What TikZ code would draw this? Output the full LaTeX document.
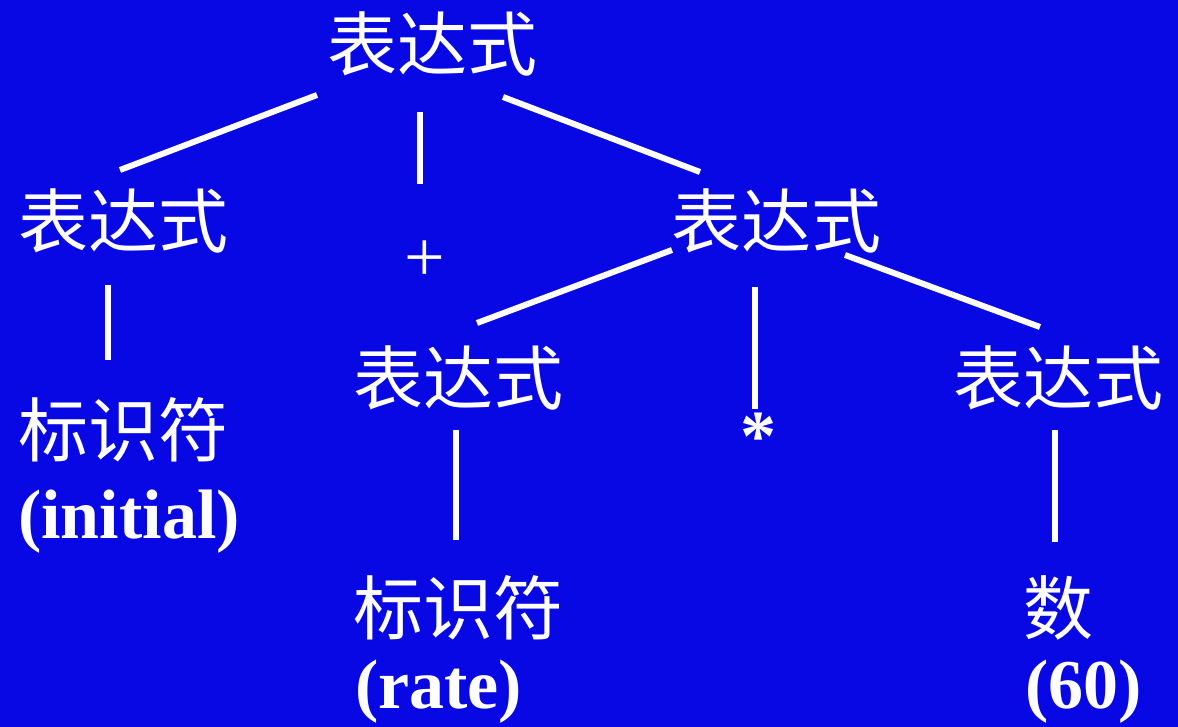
\documentclass[tikz,border=0pt]{standalone}
\usepackage{fontspec}
\setmainfont{Liberation Serif}
\newfontfamily\cjk{Noto Sans CJK SC}
\definecolor{bgblue}{RGB}{8,8,228}
\begin{document}
\begin{tikzpicture}[x=1pt,y=-1pt,
  cjklabel/.style={text=white,inner sep=0pt,anchor=center,font=\cjk\fontsize{70}{70}\selectfont},
  latlabel/.style={text=white,inner sep=0pt,anchor=base west,font=\bfseries\fontsize{70}{70}\selectfont},
  branch/.style={draw=white,line width=6pt}]
\fill[bgblue] (0,0) rectangle (1178,727);
\useasboundingbox (0,0) rectangle (1178,727);
% nodes
\node[cjklabel] (top) at (432,44) {表达式};
\node[cjklabel] (e1) at (124,221) {表达式};
\node[text=white,inner sep=0pt,anchor=base,font=\fontsize{72}{72}\selectfont] (plus) at (425,282) {+};
\node[cjklabel] (e2) at (776,221) {表达式};
\node[cjklabel] (id1) at (124,430) {标识符};
\node[latlabel] (ini) at (18,538) {(initial)};
\node[cjklabel] (e3) at (458,378) {表达式};
\node[text=white,inner sep=0pt,anchor=base,font=\bfseries\fontsize{72}{72}\selectfont] (star) at (758,460) {*};
\node[cjklabel] (e4) at (1058,378) {表达式};
\node[cjklabel] (id2) at (458,608) {标识符};
\node[latlabel] (rate) at (355,708) {(rate)};
\node[cjklabel] (num) at (1058,608) {数};
\node[latlabel] (sixty) at (1025,708) {(60)};
% connectors
\draw[branch] ([shift={(-115,51)}]top.center) -- ([shift={(-4,-51)}]e1.center);
\draw[branch] ([shift={(-12,68)}]top.center) -- ([shift={(-5,-78)}]plus.center);
\draw[branch] ([shift={(71,53)}]top.center) -- ([shift={(-76,-49)}]e2.center);
\draw[branch] ([shift={(-16,64)}]e1.center) -- ([shift={(-16,-70)}]id1.center);
\draw[branch] ([shift={(-104,29)}]e2.center) -- ([shift={(19,-55)}]e3.center);
\draw[branch] ([shift={(-21,66)}]e2.center) -- ([shift={(-3,-27)}]star.center);
\draw[branch] ([shift={(69,34)}]e2.center) -- ([shift={(-18,-51)}]e4.center);
\draw[branch] ([shift={(-2,52)}]e3.center) -- ([shift={(-2,-68)}]id2.center);
\draw[branch] ([shift={(-3,52)}]e4.center) -- ([shift={(-3,-66)}]num.center);
\end{tikzpicture}
\end{document}
